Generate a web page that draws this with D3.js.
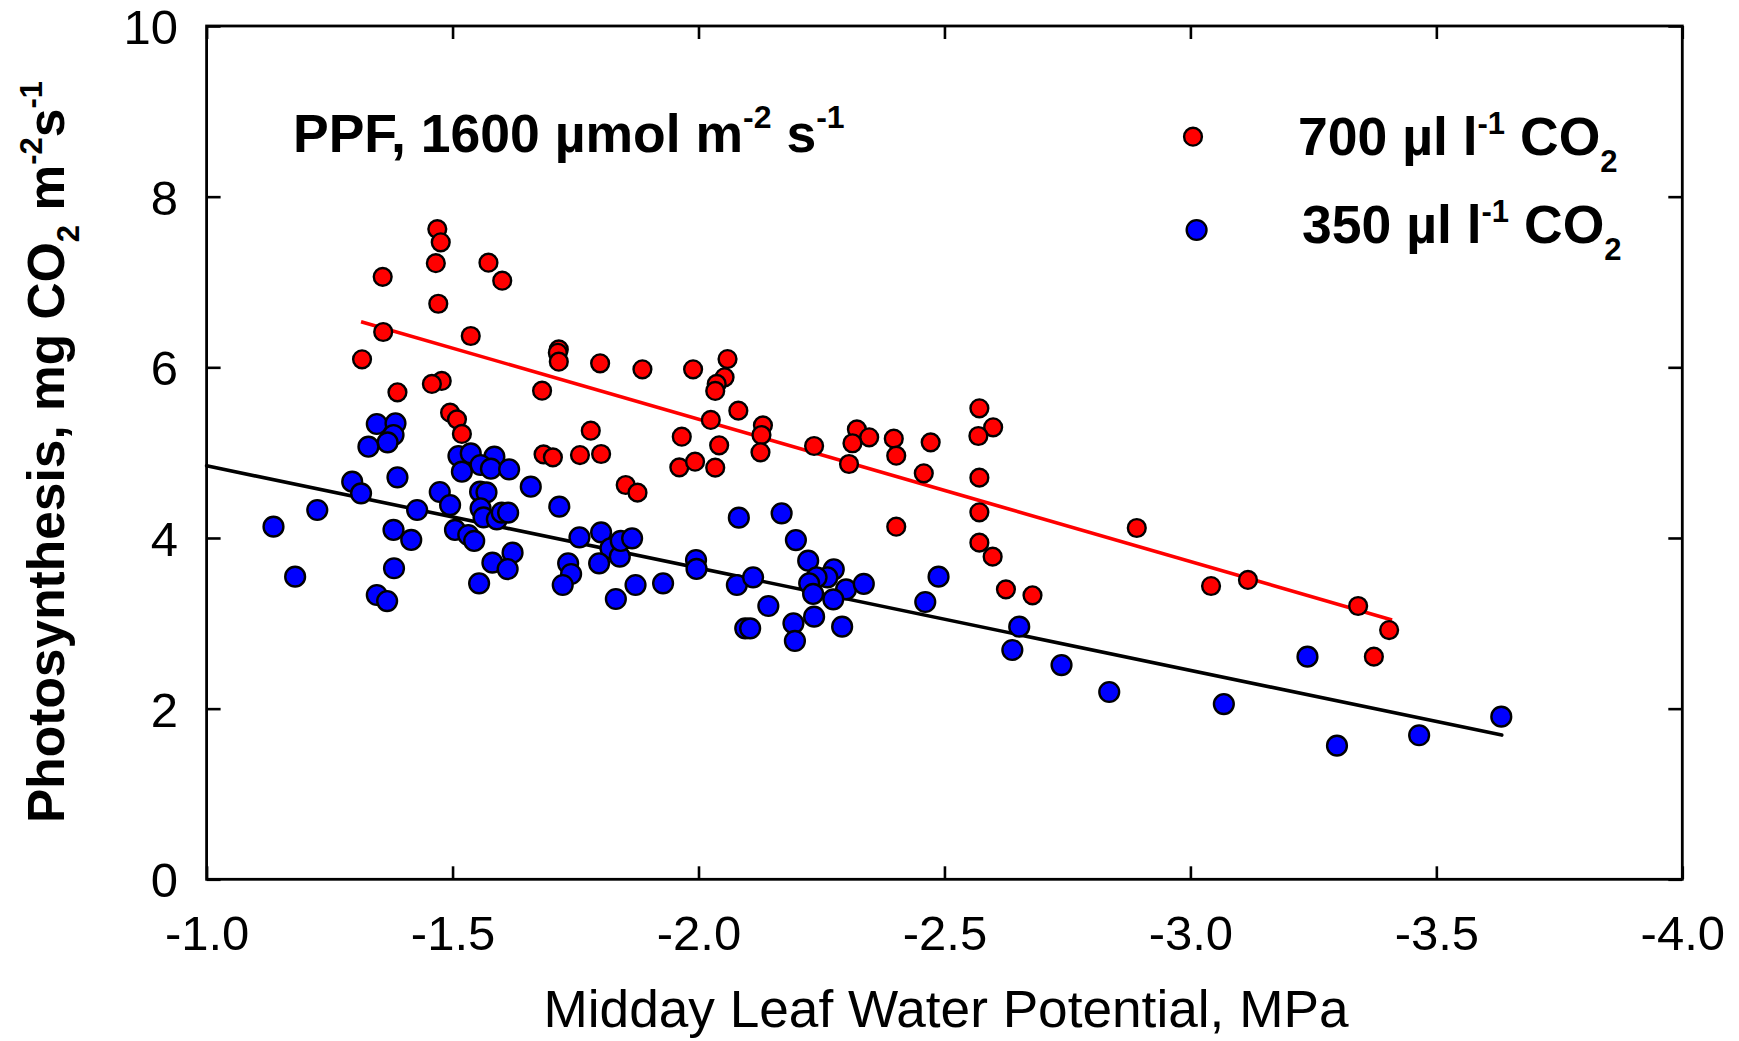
<!DOCTYPE html>
<html><head><meta charset="utf-8">
<script src="https://cdn.jsdelivr.net/npm/d3@7"></script>
<style>body{margin:0;background:#fff} svg{display:block} text{font-family:Arial,"Liberation Sans",sans-serif;white-space:pre}</style>
</head><body><svg id="c" width="1739" height="1041"></svg>
<script>
// ---------- data ----------
const xTicks = [-1.0, -1.5, -2.0, -2.5, -3.0, -3.5, -4.0];
const yTicks = [0, 2, 4, 6, 8, 10];

// 700 µl l-1 CO2 (red)
const x700 = [-1.469,-1.476,-1.466,-1.573,-1.358,-1.601,-1.471,-1.359,-1.537,-1.316,
  -1.716,-1.714,-1.716,-1.800,-1.886,-1.989,-1.478,-1.458,-1.388,-1.682,
  -1.495,-1.509,-1.519,-1.781,-1.966,-1.685,-1.704,-1.759,-1.802,-1.961,
  -1.993,-1.852,-1.876,-2.059,-2.053,-2.037,-2.034,-2.081,-2.025,-2.042,
  -2.131,-2.128,-2.126,-2.034,-2.235,-2.322,-2.347,-2.313,-2.306,-2.397,
  -2.402,-2.472,-2.458,-2.571,-2.599,-2.569,-2.571,-2.571,-2.402,-2.571,
  -2.598,-2.625,-2.679,-2.891,-3.042,-3.117,-3.341,-3.404,-3.373];
const y700 = [7.62,7.465,7.22,7.226,7.06,7.015,6.745,6.414,6.367,6.094,
  6.21,6.17,6.066,6.047,5.977,5.977,5.84,5.805,5.707,5.726,
  5.468,5.39,5.219,5.257,5.187,4.98,4.945,4.972,4.984,4.828,
  4.894,4.621,4.531,6.097,5.883,5.805,5.723,5.492,5.383,5.086,
  5.32,5.207,5.004,4.824,5.078,5.273,5.18,5.11,4.867,5.164,
  4.964,5.121,4.758,5.52,5.297,5.195,4.707,4.301,4.132,3.945,
  3.781,3.398,3.328,4.117,3.437,3.508,3.203,2.921,2.609];

// 350 µl l-1 CO2 (blue)
const x350 = [-1.346,-1.384,-1.380,-1.368,-1.329,-1.512,-1.537,-1.585,-1.557,-1.578,
  -1.615,-1.519,-1.388,-1.659,-1.296,-1.314,-1.474,-1.556,-1.569,-1.495,
  -1.557,-1.563,-1.590,-1.600,-1.613,-1.717,-1.225,-1.428,-1.136,-1.380,
  -1.416,-1.505,-1.532,-1.544,-1.758,-1.802,-1.821,-1.840,-1.842,-1.865,
  -1.995,-1.996,-1.622,-1.581,-1.612,-1.381,-1.735,-1.741,-1.724,-1.798,
  -1.180,-1.554,-1.872,-1.928,-1.832,-1.346,-1.367,-2.082,-2.169,-2.198,
  -2.078,-2.111,-2.223,-2.275,-2.262,-2.240,-2.225,-2.300,-2.336,-2.233,
  -2.274,-2.142,-2.095,-2.105,-2.193,-2.196,-2.235,-2.292,-2.488,-2.461,
  -2.652,-2.638,-2.738,-3.238,-2.835,-3.068,-3.298,-3.465,-3.632];
const y350 = [5.336,5.344,5.207,5.121,5.070,4.961,4.992,4.953,4.855,4.812,
  4.805,4.777,4.711,4.601,4.660,4.523,4.539,4.543,4.535,4.386,
  4.348,4.242,4.219,4.297,4.297,4.367,4.328,4.328,4.133,4.094,
  3.977,4.094,4.035,3.965,4.008,4.066,3.879,3.781,3.965,3.996,
  3.742,3.637,3.828,3.711,3.636,3.645,3.703,3.578,3.449,3.703,
  3.547,3.469,3.449,3.469,3.285,3.332,3.261,4.238,4.289,3.976,
  3.449,3.539,3.734,3.633,3.539,3.539,3.469,3.398,3.461,3.344,
  3.281,3.203,2.941,2.941,3.000,2.793,3.078,2.961,3.547,3.250,
  2.961,2.687,2.511,2.609,2.195,2.054,1.566,1.688,1.906];

// regression lines (end points)
const fit700X = [-1.314, -3.41];
const fit700Y = [6.535, 3.04];
const fit350X = [-1.0, -3.633];
const fit350Y = [4.846, 1.69];

// ---------- drawing ----------
const svg = d3.select('#c');
const L = 206.6, R = 1682.3, T = 26, B = 879.3;
const x = d3.scaleLinear().domain([-1, -4]).range([L, R]);
const y = d3.scaleLinear().domain([0, 10]).range([B, T]);
const fmt = d => d.toFixed(1);
const TICK = 13, AX = 2.6;
const FONT = 'Arial, "Liberation Sans", sans-serif';

// bottom axis with labels
const gx = svg.append('g').attr('transform', `translate(0,${B})`)
  .call(d3.axisBottom(x).tickValues(xTicks).tickFormat(fmt).tickSizeInner(-TICK).tickSizeOuter(0));
// top axis ticks only
const gt = svg.append('g').attr('transform', `translate(0,${T})`)
  .call(d3.axisTop(x).tickValues(xTicks).tickFormat('').tickSizeInner(-TICK).tickSizeOuter(0));
// left axis with labels
const gy = svg.append('g').attr('transform', `translate(${L},0)`)
  .call(d3.axisLeft(y).tickValues(yTicks).tickFormat(d => d).tickSizeInner(-TICK - 1).tickSizeOuter(0));
// right axis ticks only
const gr = svg.append('g').attr('transform', `translate(${R},0)`)
  .call(d3.axisRight(y).tickValues(yTicks).tickFormat('').tickSizeInner(-TICK - 1).tickSizeOuter(0));

[gx, gt, gy, gr].forEach(g => {
  g.select('.domain').remove();
  g.selectAll('line').attr('stroke', '#000').attr('stroke-width', AX);
});
gx.selectAll('text').attr('y', 70.7).attr('dy', 0).attr('font-size', 49).attr('fill', '#000')
  .attr('font-family', FONT);
gy.selectAll('text').attr('x', 178 - L).attr('dy', '0.36em').attr('font-size', 49).attr('fill', '#000')
  .attr('font-family', FONT);

// frame
svg.append('rect').attr('x', L).attr('y', T).attr('width', R - L).attr('height', B - T)
  .attr('fill', 'none').attr('stroke', '#000').attr('stroke-width', 2.8);

// regression lines
const line = d3.line().x(d => x(d[0])).y(d => y(d[1]));
svg.append('path').datum(fit700X.map((v, i) => [v, fit700Y[i]]))
  .attr('d', line).attr('stroke', '#ff0000').attr('stroke-width', 3.6).attr('fill', 'none');
svg.append('path').datum(fit350X.map((v, i) => [v, fit350Y[i]]))
  .attr('d', line).attr('stroke', '#000').attr('stroke-width', 3.6).attr('fill', 'none')
  .attr('stroke-linecap', 'round');

// points
const red = x700.map((v, i) => [v, y700[i]]);
const blue = x350.map((v, i) => [v, y350[i]]);
svg.append('g').selectAll('circle').data(blue).join('circle')
  .attr('cx', d => x(d[0])).attr('cy', d => y(d[1])).attr('r', 9.9)
  .attr('fill', '#0000ff').attr('stroke', '#000').attr('stroke-width', 2.4);
svg.append('g').selectAll('circle').data(red).join('circle')
  .attr('cx', d => x(d[0])).attr('cy', d => y(d[1])).attr('r', 8.9)
  .attr('fill', '#ff0000').attr('stroke', '#000').attr('stroke-width', 2.4);

// axis titles
svg.append('text').attr('x', 946).attr('y', 1027).attr('text-anchor', 'middle')
  .attr('font-size', 51).attr('textLength', 805).attr('lengthAdjust', 'spacingAndGlyphs')
  .text('Midday Leaf Water Potential, MPa');

const yt = svg.append('text').attr('transform', 'translate(64,452) rotate(-90)')
  .attr('text-anchor', 'middle').attr('font-size', 51.5).attr('font-weight', 'bold');
yt.append('tspan').text('Photosynthesis, mg CO');
yt.append('tspan').attr('font-size', 31).attr('dy', 15).text('2');
yt.append('tspan').attr('dy', -15).text(' m');
yt.append('tspan').attr('font-size', 31).attr('dy', -22).text('-2');
yt.append('tspan').attr('dy', 22).text('s');
yt.append('tspan').attr('font-size', 31).attr('dy', -22).text('-1');

// PPF annotation
const pt = svg.append('text').attr('x', 293).attr('y', 151.7).attr('font-size', 53.5).attr('font-weight', 'bold');
pt.append('tspan').text('PPF, 1600 µmol m');
pt.append('tspan').attr('font-size', 32).attr('dy', -24).text('-2');
pt.append('tspan').attr('dy', 24).text(' s');
pt.append('tspan').attr('font-size', 32).attr('dy', -24).text('-1');

// legend
const legend = [
  {label: '700', color: '#ff0000', r: 8.9, cx: 1193, cy: 136.7, tx: 1298, ty: 155},
  {label: '350', color: '#0000ff', r: 9.9, cx: 1196.6, cy: 230, tx: 1302, ty: 243.3}
];
legend.forEach(d => {
  svg.append('circle').attr('cx', d.cx).attr('cy', d.cy).attr('r', d.r)
    .attr('fill', d.color).attr('stroke', '#000').attr('stroke-width', 2.4);
  const t = svg.append('text').attr('x', d.tx).attr('y', d.ty).attr('font-size', 53.5).attr('font-weight', 'bold');
  t.append('tspan').text(d.label + ' µl l');
  t.append('tspan').attr('font-size', 31).attr('dy', -21).text('-1');
  t.append('tspan').attr('dy', 21).text(' CO');
  t.append('tspan').attr('font-size', 31).attr('dy', 17).text('2');
});
</script></body></html>
